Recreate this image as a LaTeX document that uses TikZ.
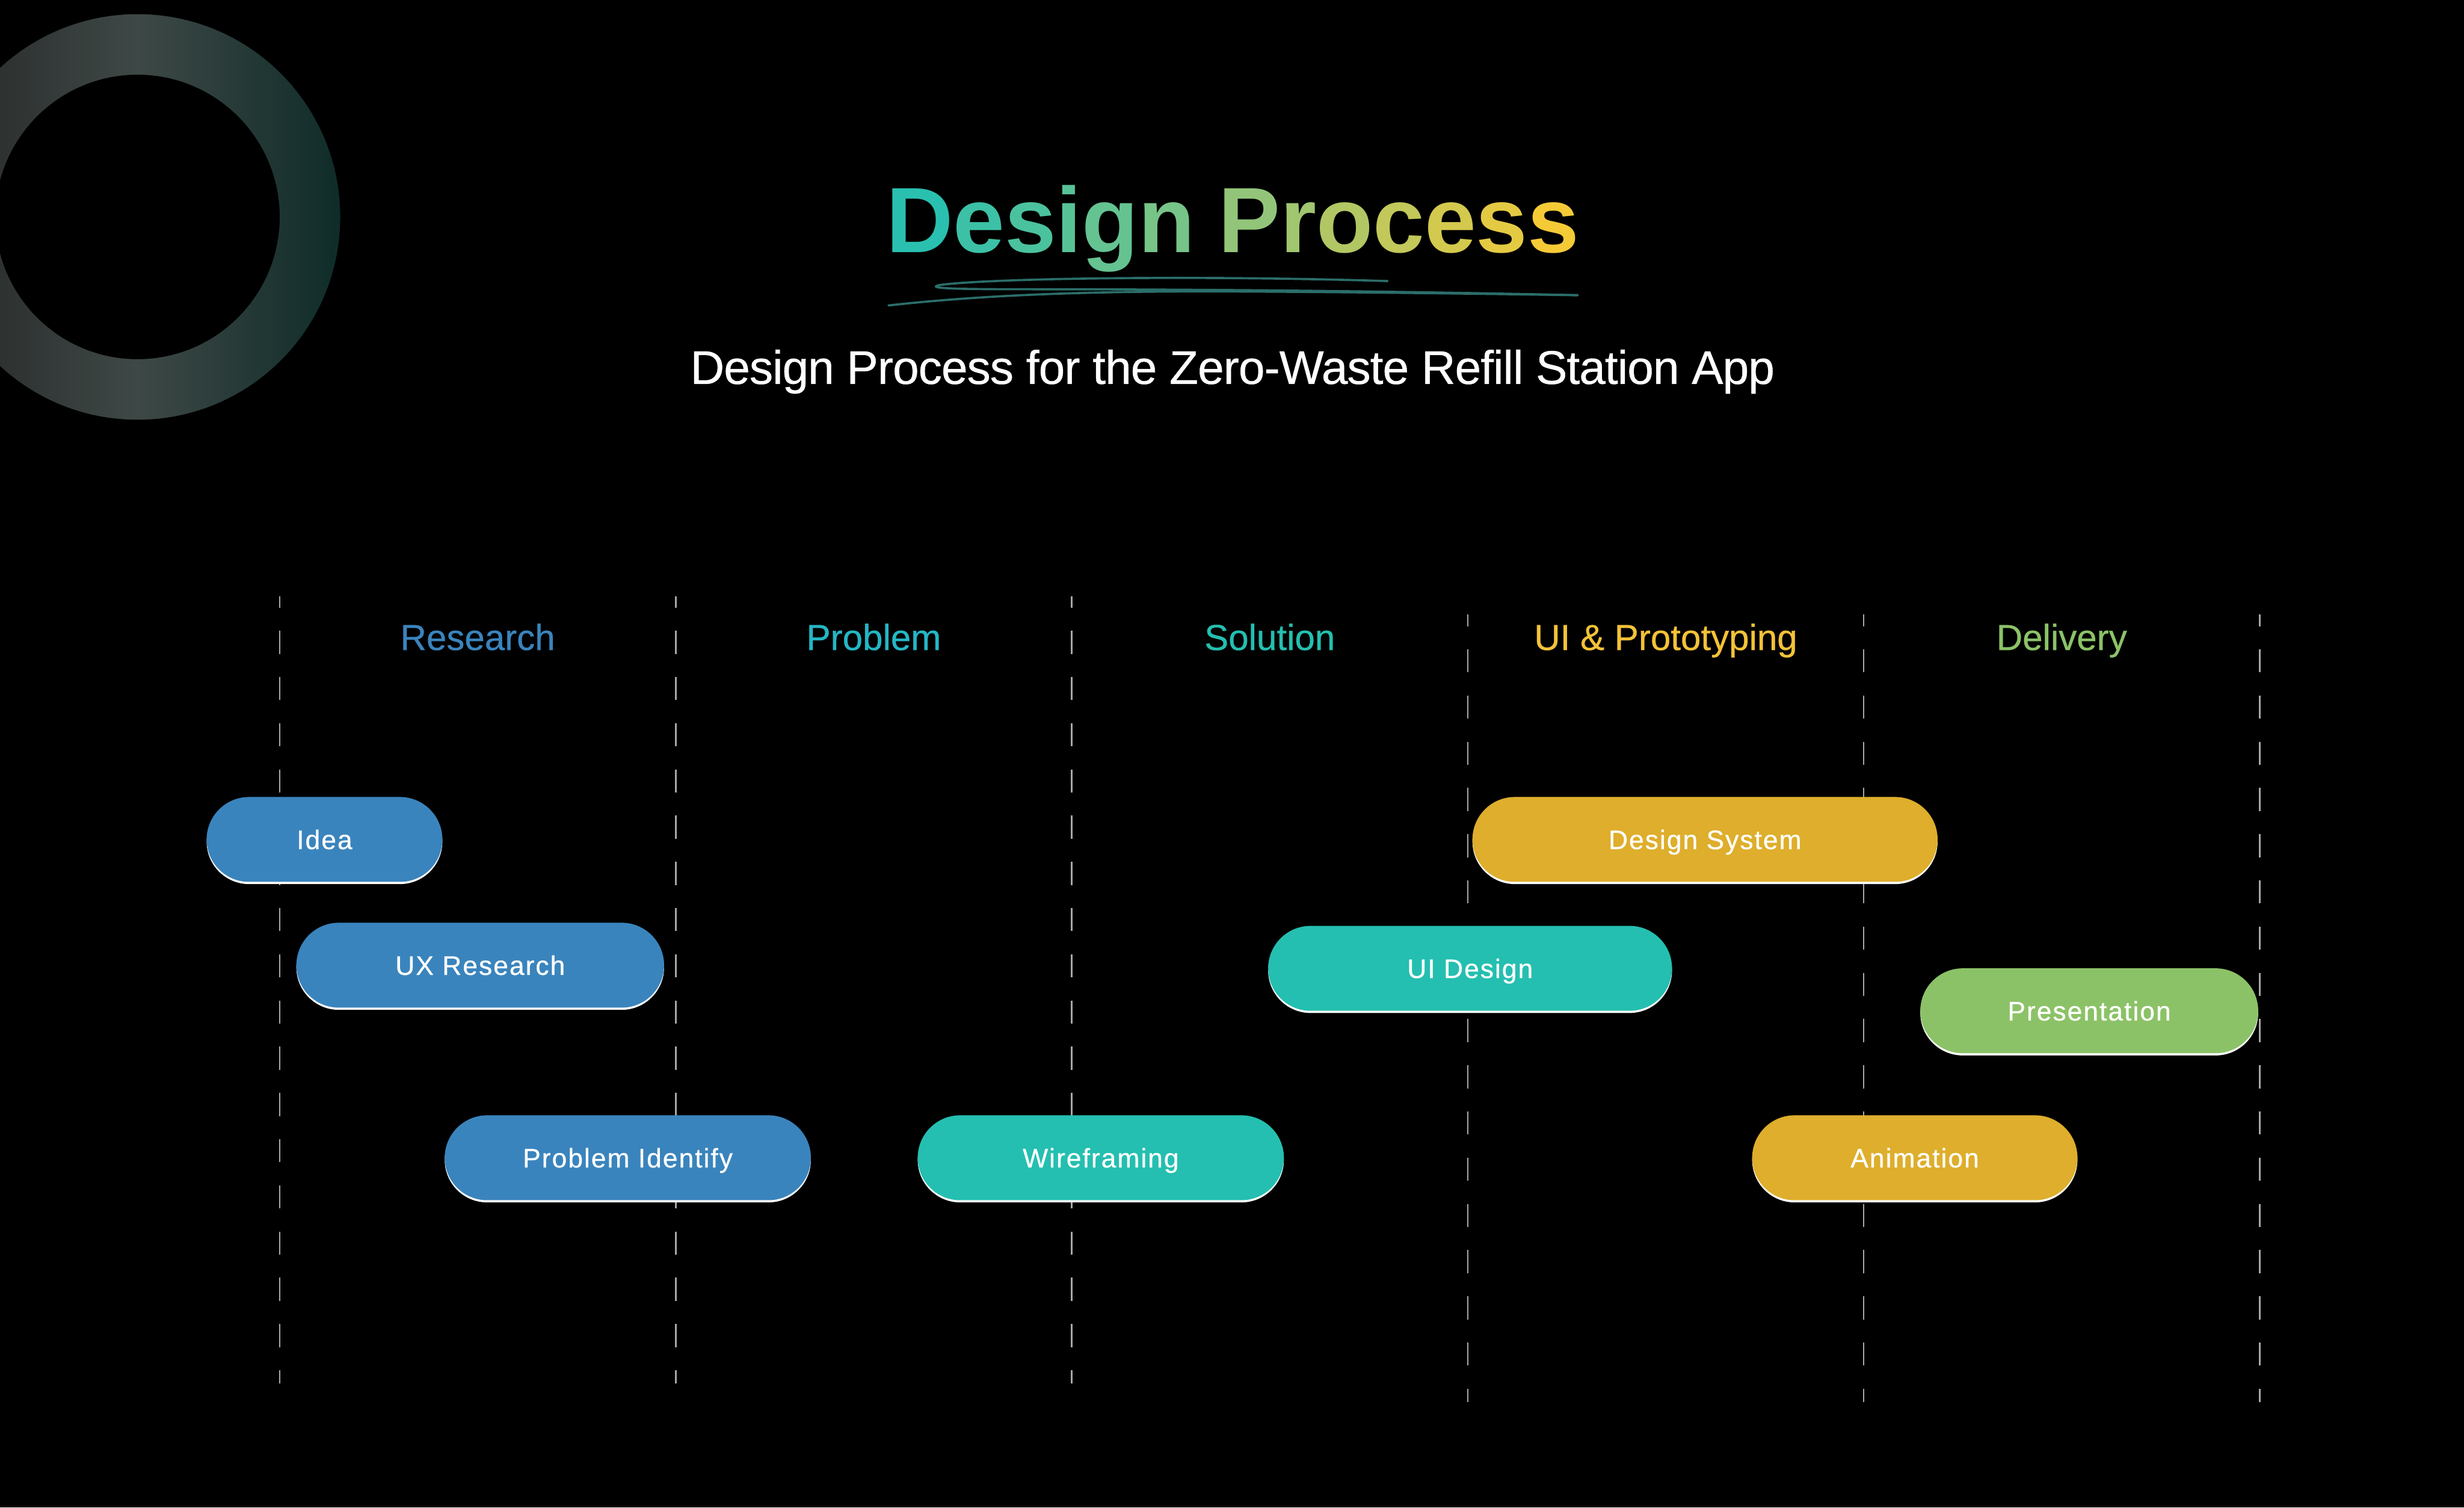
\documentclass[tikz,border=0pt]{standalone}
\usepackage{fontspec}
\setmainfont{Liberation Sans}
\newfontfamily\titlefont[LetterSpace=-2.8]{Liberation Sans}
\newfontfamily\subfont[LetterSpace=-1.2, FakeBold=0.5]{Liberation Sans}
\newfontfamily\phasefont[FakeBold=0.5]{Liberation Sans}
\newfontfamily\pillfont[LetterSpace=4.5, FakeBold=0.6]{Liberation Sans}
\usepackage{xcolor}
\usepackage{tikz}
\pgfdeclarelayer{background}
\pgfdeclarelayer{edgelayer}
\pgfdeclarelayer{nodelayer}
\pgfsetlayers{background,edgelayer,nodelayer,main}
\definecolor{resblue}{HTML}{3A84BD}
\definecolor{probcyan}{HTML}{25B6C4}
\definecolor{solteal}{HTML}{24BFB0}
\definecolor{uiyellow}{HTML}{DEAE2C}
\definecolor{hdryellow}{HTML}{F3C238}
\definecolor{delgreen}{HTML}{8CC267}
\definecolor{guidegray}{HTML}{A8A8A8}
\definecolor{scribble}{HTML}{2B6E6A}
\definecolor{ringA}{HTML}{262727}
\definecolor{ringB}{HTML}{3E4846}
\definecolor{ringC}{HTML}{0F2C29}
\definecolor{gradA}{HTML}{1EBFB5}
\definecolor{gradB}{HTML}{8CC57D}
\definecolor{gradC}{HTML}{FDCB32}
\newcommand{\ttlA}[2]{\textcolor{gradB!#1!gradA}{#2}}
\newcommand{\ttlB}[2]{\textcolor{gradC!#1!gradB}{#2}}
\tikzstyle{none}=[inner sep=0mm]
\tikzstyle{guide}=[draw=guidegray, line width=1pt, dash pattern=on 14.7pt off 14.7pt, dash phase=7.35pt]
\tikzstyle{phase}=[inner sep=0mm, anchor=base, font={\phasefont\fontsize{23}{28}\selectfont}]
\tikzstyle{pill}=[shape=rectangle, rounded corners=27pt, minimum height=54pt, inner sep=0pt, text=white, text height=12.3pt, text depth=0pt, font={\pillfont\fontsize{17}{20}\selectfont}, preaction={fill=white, transform canvas={yshift=-1.4pt}}]
\tikzstyle{bp}=[pill, fill=resblue]
\tikzstyle{tp}=[pill, fill=solteal]
\tikzstyle{yp}=[pill, fill=uiyellow]
\tikzstyle{gp}=[pill, fill=delgreen]
\begin{document}
\begin{tikzpicture}[x=1pt, y=-1pt]
	\useasboundingbox (0,0) rectangle (1568,959);
	\begin{pgfonlayer}{background}
		\fill [black] (0,0) rectangle (1568,959);
		\begin{scope}
			\clip (0,0) rectangle (1568,959);
			\shade [even odd rule, left color=ringA, right color=ringC, middle color=ringB] (87.5,138) circle (129) (87.5,138) circle (90.5);
		\end{scope}
	\end{pgfonlayer}
	% heading
	\node [none, anchor=base] (title) at (784.5,160.7) {\titlefont\bfseries\fontsize{59}{70}\selectfont\ttlA{10}{D}\ttlA{27}{e}\ttlA{41}{s}\ttlA{53}{i}\ttlA{64}{g}\ttlA{81}{n} \ttlB{5}{P}\ttlB{19}{r}\ttlB{33}{o}\ttlB{48}{c}\ttlB{63}{e}\ttlB{78}{s}\ttlB{93}{s}};
	\draw [scribble, line width=1.4pt, line cap=round] (883,178.8) .. controls (760,175) and (630,177) .. (598,181.3) .. controls (588,183.5) and (610,184) .. (650,184) .. controls (780,184) and (900,185.5) .. (1004,187.8);
	\draw [scribble, line width=1.4pt, line cap=round] (565.4,194.3) .. controls (640,186) and (720,185) .. (800,185.5) .. controls (880,186) and (950,187) .. (1004,187.8);
	\node [none, anchor=base, text=white, font={\subfont\fontsize{30}{36}\selectfont}] (subtitle) at (784.3,244.2) {Design Process for the Zero-Waste Refill Station App};
	% phases
	\node [phase, text=resblue] (research) at (304,413.5) {Research};
	\node [phase, text=probcyan] (problem) at (556,413.5) {Problem};
	\node [phase, text=solteal] (solution) at (808,413.5) {Solution};
	\node [phase, text=hdryellow] (uiproto) at (1060,413.5) {UI \& Prototyping};
	\node [phase, text=delgreen] (delivery) at (1312,413.5) {Delivery};
	\begin{pgfonlayer}{nodelayer}
		\node [style=none] (t1) at (178, 379.2) {};
		\node [style=none] (b1) at (178, 880.2) {};
		\node [style=none] (t2) at (430, 379.2) {};
		\node [style=none] (b2) at (430, 880.2) {};
		\node [style=none] (t3) at (682, 379.2) {};
		\node [style=none] (b3) at (682, 880.2) {};
		\node [style=none] (t4) at (934, 391) {};
		\node [style=none] (b4) at (934, 892) {};
		\node [style=none] (t5) at (1186, 391) {};
		\node [style=none] (b5) at (1186, 892) {};
		\node [style=none] (t6) at (1438, 391) {};
		\node [style=none] (b6) at (1438, 892) {};
		\node [style=bp, minimum width=150pt] (idea) at (206.5, 534) {Idea};
		\node [style=bp, minimum width=234pt] (uxres) at (305.6, 614) {UX Research};
		\node [style=bp, minimum width=233pt] (probid) at (399.5, 736.5) {Problem Identify};
		\node [style=tp, minimum width=233pt] (wire) at (700.5, 736.5) {Wireframing};
		\node [style=yp, minimum width=296pt] (dsys) at (1085, 534) {Design System};
		\node [style=tp, minimum width=257pt] (uides) at (935.5, 616) {UI Design};
		\node [style=gp, minimum width=215pt] (pres) at (1329.5, 643) {Presentation};
		\node [style=yp, minimum width=207pt] (anim) at (1218.5, 736.5) {Animation};
	\end{pgfonlayer}
	\begin{pgfonlayer}{edgelayer}
		\draw [style=guide] (t1.center) to (b1.center);
		\draw [style=guide] (t2.center) to (b2.center);
		\draw [style=guide] (t3.center) to (b3.center);
		\draw [style=guide] (t4.center) to (b4.center);
		\draw [style=guide] (t5.center) to (b5.center);
		\draw [style=guide] (t6.center) to (b6.center);
	\end{pgfonlayer}
\end{tikzpicture}
\end{document}
